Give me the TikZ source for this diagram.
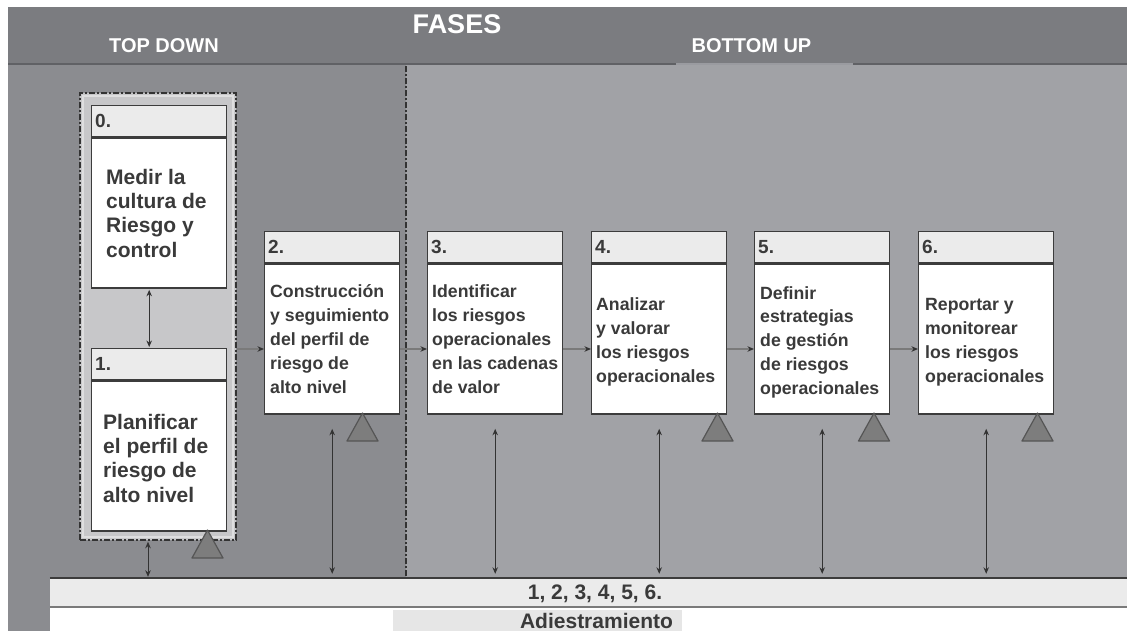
\documentclass[tikz,border=0pt]{standalone}
\usepackage{fontspec}
\setmainfont{Liberation Sans}
\usetikzlibrary{arrows.meta,calc}
\definecolor{topgray}{HTML}{7B7C80}
\definecolor{topline}{HTML}{606165}
\definecolor{leftgray}{HTML}{8B8C90}
\definecolor{rightgray}{HTML}{A1A2A6}
\definecolor{tabgray}{HTML}{9A9BA0}
\definecolor{groupfill}{HTML}{C7C7C9}
\definecolor{groupband}{HTML}{DEDEDF}
\definecolor{hdrfill}{HTML}{EBEBEB}
\definecolor{boxline}{HTML}{3C3C3C}
\definecolor{txtcol}{HTML}{3A3A3A}
\definecolor{barfill}{HTML}{EBEBEB}
\definecolor{patchfill}{HTML}{E6E6E6}
\definecolor{trifill}{HTML}{7D7D7D}
\definecolor{triline}{HTML}{555555}
\definecolor{arrline}{HTML}{7A7A7A}
\definecolor{darkarr}{HTML}{333333}
\begin{document}
\begin{tikzpicture}[x=1pt,y=-1pt,
  toptext/.style={text=white, inner sep=0pt},
  groupbox/.style={draw=darkarr, fill=groupfill, line width=1.5pt,
    dash pattern=on 6pt off 2pt on 2pt off 2pt, inner sep=0pt},
  hdr/.style={draw=boxline, fill=hdrfill, line width=1.4pt, minimum width=135pt,
    minimum height=31pt, inner sep=0pt, anchor=north west},
  bodybox/.style={draw=boxline, fill=white, line width=1.4pt, minimum width=135pt,
    minimum height=150pt, inner sep=0pt, anchor=north},
  hdrtext/.style={text=txtcol, font=\bfseries\fontsize{19}{19}\selectfont,
    inner sep=0pt, anchor=west},
  bigtext/.style={text=txtcol, font=\bfseries\fontsize{21}{24.3}\selectfont,
    inner sep=0pt, anchor=west, align=left},
  smalltext/.style={text=txtcol, font=\bfseries\fontsize{17.7}{23.8}\selectfont,
    inner sep=0pt, anchor=west, align=left},
  harrow/.style={draw=arrline, line width=1.4pt,
    -{Stealth[length=6.5pt,width=5.5pt,color=darkarr]}},
  varrow/.style={draw=darkarr, line width=0.9pt,
    {Stealth[length=6.5pt,width=5.5pt]}-{Stealth[length=6.5pt,width=5.5pt]},
    shorten >=1pt, shorten <=1pt},
  tri/.style={fill=trifill, draw=triline, line width=1.2pt, line join=round},
  sepline/.style={draw=darkarr, line width=1.5pt,
    dash pattern=on 6pt off 2pt on 2pt off 2pt},
  bartext/.style={text=txtcol, font=\bfseries\fontsize{21}{21}\selectfont, inner sep=0pt}
]
\useasboundingbox (0,0) rectangle (1127,631);
\fill[white] (0,0) rectangle (1127,631);
% background areas
\fill[leftgray] (8,63) rectangle (406,631);
\fill[rightgray] (406,63) rectangle (1127,578);
\fill[topgray] (8,7) rectangle (1127,64);
\draw[topline, line width=2.5pt] (8,64) -- (1127,64);
\draw[tabgray, line width=2.5pt] (676,64) -- (853,64);
% titles
\node[toptext, font=\bfseries\fontsize{27}{27}\selectfont] (fases) at (457,24) {FASES};
\node[toptext, font=\bfseries\fontsize{20}{20}\selectfont] (topdown) at (164,46) {TOP DOWN};
\node[toptext, font=\bfseries\fontsize{20}{20}\selectfont] (bottomup) at (751.5,46) {BOTTOM UP};
% separator
\draw[sepline] (406,66) -- (406,577);
% group
\node[groupbox, minimum width=156pt, minimum height=447pt] (g) at (158,316.5) {};
\draw[groupband, line width=2.2pt] ([shift={(3.5pt,-3.5pt)}]g.north west) rectangle ([shift={(-3.5pt,3.5pt)}]g.south east);
% box 0
\node[hdr] (h0) at (91,105) {};
\node[hdrtext] (t0) at ([xshift=4pt]h0.west) {0.};
\node[bodybox] (b0) at (h0.south) {};
\node[bigtext] (x0) at ([xshift=15pt]b0.west) {Medir la\\cultura de\\Riesgo y\\control};
% box 1
\node[hdr] (h1) at (91,348) {};
\node[hdrtext] (t1) at ([xshift=4pt]h1.west) {1.};
\node[bodybox] (b1) at (h1.south) {};
\node[bigtext] (x1) at ([xshift=12pt,yshift=-2pt]b1.west) {Planificar\\el perfil de\\riesgo de\\alto nivel};
% box 2
\node[hdr] (h2) at (264,231) {};
\node[hdrtext] (t2) at ([xshift=4pt]h2.west) {2.};
\node[bodybox] (b2) at (h2.south) {};
\node[smalltext] (x2) at ([xshift=6pt]b2.west) {Construcción\\y seguimiento\\del perfil de\\riesgo de\\alto nivel};
% box 3
\node[hdr] (h3) at (427,231) {};
\node[hdrtext] (t3) at ([xshift=4pt]h3.west) {3.};
\node[bodybox] (b3) at (h3.south) {};
\node[smalltext] (x3) at ([xshift=5pt]b3.west) {Identificar\\los riesgos\\operacionales\\en las cadenas\\de valor};
% box 4
\node[hdr] (h4) at (591,231) {};
\node[hdrtext] (t4) at ([xshift=4pt]h4.west) {4.};
\node[bodybox] (b4) at (h4.south) {};
\node[smalltext] (x4) at ([xshift=5pt,yshift=-3pt]b4.west) {Analizar\\y valorar\\los riesgos\\operacionales};
% box 5
\node[hdr] (h5) at (754,231) {};
\node[hdrtext] (t5) at ([xshift=4pt]h5.west) {5.};
\node[bodybox] (b5) at (h5.south) {};
\node[smalltext] (x5) at ([xshift=6pt,yshift=-3pt]b5.west) {Definir\\estrategias\\de gestión\\de riesgos\\operacionales};
% box 6
\node[hdr] (h6) at (918,231) {};
\node[hdrtext] (t6) at ([xshift=4pt]h6.west) {6.};
\node[bodybox] (b6) at (h6.south) {};
\node[smalltext] (x6) at ([xshift=7pt,yshift=-3pt]b6.west) {Reportar y\\monitorear\\los riesgos\\operacionales};
% bottom bar
\node[fill=barfill, minimum width=1077pt, minimum height=29pt, inner sep=0pt] (r1) at (588.5,592.5) {};
\node[fill=white, minimum width=1077pt, minimum height=24pt, inner sep=0pt] (r2) at (588.5,619) {};
\node[fill=patchfill, minimum width=289pt, minimum height=21pt, inner sep=0pt] (patch) at (537.5,620.5) {};
\draw[boxline, line width=2pt] (r1.north west) -- (r1.north east);
\draw[arrline, line width=1.5pt] (r1.south west) -- (r1.south east);
\node[bartext] (nums) at (595,593.5) {1, 2, 3, 4, 5, 6.};
\node[bartext] (adies) at (596.5,620.5) {Adiestramiento};
% horizontal arrows
\coordinate (hy) at (0,349);
\draw[harrow] (g.east |- hy) -- (b2.west |- hy);
\draw[harrow] (b2.east |- hy) -- (b3.west |- hy);
\draw[harrow] (b3.east |- hy) -- (b4.west |- hy);
\draw[harrow] (b4.east |- hy) -- (b5.west |- hy);
\draw[harrow] (b5.east |- hy) -- (b6.west |- hy);
% vertical arrows
\draw[varrow] ([xshift=-10pt]b0.south) -- ([xshift=-10pt]h1.north);
\draw[varrow] ([xshift=-10pt]g.south) -- ([xshift=-10pt]g.south |- r1.north);
\foreach \b in {b2,b3,b4,b5,b6}{
  \draw[varrow, shorten >=4pt] ([yshift=-13pt]\b.south) -- (\b.south |- r1.north);
}
% triangles
\foreach \cx/\ty in {207.5/530, 362.5/413, 717.5/413, 874/413, 1037.5/413}{
  \draw[tri] (\cx-15.5,\ty+28) -- (\cx,\ty) -- (\cx+15.5,\ty+28) -- cycle;
}
\end{tikzpicture}
\end{document}
